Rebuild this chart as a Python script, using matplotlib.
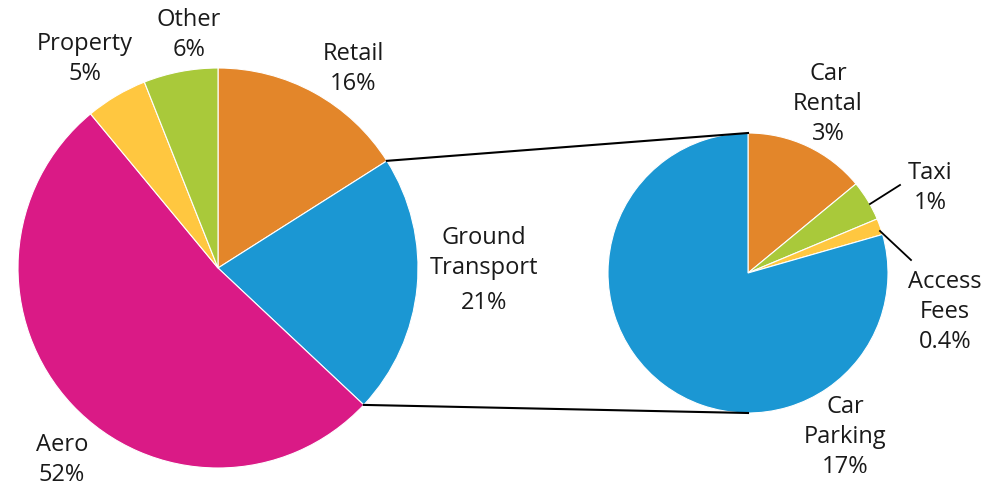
import matplotlib
matplotlib.use("Agg")
import matplotlib.pyplot as plt
import numpy as np

# revenue split, main pie
main_labels = ["Retail", "Ground\nTransport", "Aero", "Property", "Other"]
main_values = [16, 21, 52, 5, 6]
main_colors = ["#E3862A", "#1B97D3", "#DA1A86", "#FFC740", "#A9C93A"]

# breakdown of ground transport
sub_labels = ["Car\nRental", "Taxi", "Access\nFees", "Car\nParking"]
sub_values = [3, 1, 0.4, 17]
sub_colors = ["#E3862A", "#A9C93A", "#FFC740", "#1B97D3"]

plt.rcParams["font.family"] = ["Open Sans", "DejaVu Sans"]

fig = plt.figure(figsize=(10.04, 4.87), dpi=100)
ax = fig.add_axes([0, 0, 1, 1])
H = 487
ax.set_xlim(0, 1004)
ax.set_ylim(0, H)
ax.set_aspect("equal")
ax.set_axis_off()

c1, r1 = (218, H - 268), 200
c2, r2 = (748, H - 273), 140

w1, _ = ax.pie(main_values, colors=main_colors, startangle=90, counterclock=False,
               center=c1, radius=r1, frame=True,
               wedgeprops=dict(edgecolor="white", linewidth=0.8))
w2, _ = ax.pie(sub_values, colors=sub_colors, startangle=90, counterclock=False,
               center=c2, radius=r2, frame=True,
               wedgeprops=dict(edgecolor="white", linewidth=0.8))
ax.set_xlim(0, 1004)
ax.set_ylim(0, H)
ax.set_axis_off()

# connectors from the ground transport wedge to the sub pie
gt = w1[1]
for ang, yy in [(gt.theta2, c2[1] + r2), (gt.theta1, c2[1] - r2)]:
    x0 = c1[0] + r1 * np.cos(np.radians(ang))
    y0 = c1[1] + r1 * np.sin(np.radians(ang))
    ax.plot([x0, c2[0]], [y0, yy], color="black", lw=1.5)

fs = 17
def pct(v):
    return f"{v:g}%"

txt = dict(ha="center", va="center", fontsize=fs, color="#1a1a1a", linespacing=1.33)
ax.text(353, H - 69, f"{main_labels[0]}\n{pct(main_values[0])}", **txt)
ax.text(484, H - 253, main_labels[1], **txt)
ax.text(484, H - 303, pct(main_values[1]), **txt)
ax.text(62, H - 460, f"{main_labels[2]}\n{pct(main_values[2])}", **txt)
ax.text(85, H - 59, f"{main_labels[3]}\n{pct(main_values[3])}", **txt)
ax.text(189, H - 35, f"{main_labels[4]}\n{pct(main_values[4])}", **txt)

ax.text(828, H - 104, f"{sub_labels[0]}\n{pct(sub_values[0])}", **txt)
ax.text(930, H - 188, f"{sub_labels[1]}\n{pct(sub_values[1])}", **txt)
ax.text(945, H - 312, f"{sub_labels[2]}\n{pct(sub_values[2])}", **txt)
ax.text(845, H - 437, f"{sub_labels[3]}\n{pct(sub_values[3])}", **txt)

# leader lines for the thin wedges
ax.plot([870, 900], [H - 204, H - 185], color="black", lw=1.3)
ax.plot([880, 911], [H - 231, H - 260], color="black", lw=1.3)

fig.savefig("out.png", dpi=100)
